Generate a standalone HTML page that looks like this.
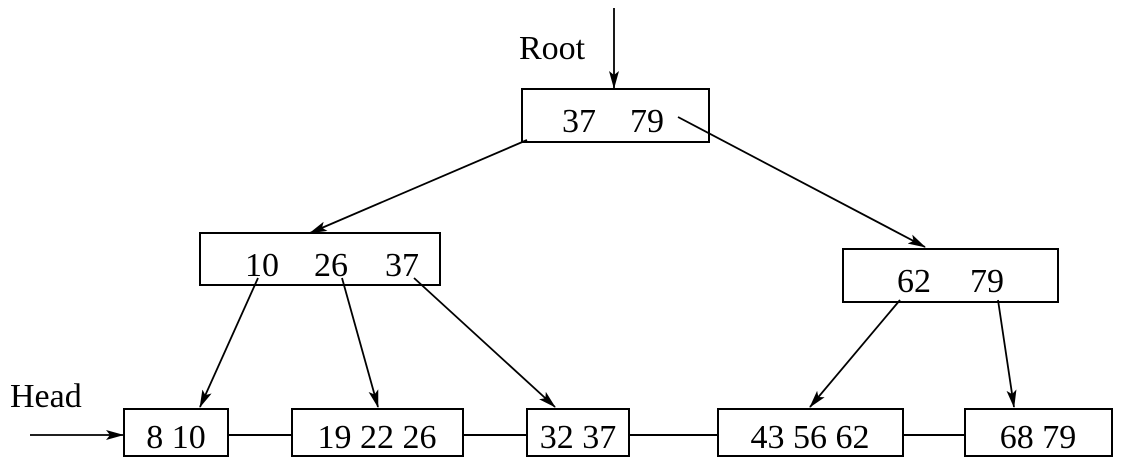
<!DOCTYPE html>
<html><head><meta charset="utf-8"><style>
html,body{margin:0;padding:0;background:#fff;}
svg{display:block;}
text{font-family:"Liberation Serif",serif;font-size:34px;fill:#000;}
</style></head><body>
<svg width="1122" height="474" viewBox="0 0 1122 474" xmlns="http://www.w3.org/2000/svg">
<defs><marker id="a" markerWidth="18" markerHeight="10" refX="17" refY="5" orient="auto" markerUnits="userSpaceOnUse"><path d="M0,0 L18,5 L0,10 L4,5 z" fill="#000"/></marker></defs>
<g fill="none" stroke="#000" stroke-width="2">
<rect x="522" y="89" width="187" height="53"/>
<rect x="200" y="233" width="240" height="52"/>
<rect x="843" y="249" width="215" height="53"/>
<rect x="124" y="409" width="104" height="47"/>
<rect x="292" y="409" width="171" height="47"/>
<rect x="527" y="409" width="102" height="47"/>
<rect x="718" y="409" width="185" height="47"/>
<rect x="965" y="409" width="147" height="47"/>
<line x1="228" y1="435" x2="292" y2="435"/>
<line x1="463" y1="435" x2="527" y2="435"/>
<line x1="629" y1="435" x2="718" y2="435"/>
<line x1="903" y1="435" x2="965" y2="435"/>
</g>
<g stroke="#000" stroke-width="1.8" marker-end="url(#a)">
<line x1="614" y1="8" x2="614" y2="88"/>
<line x1="30" y1="435" x2="123" y2="435"/>
<line x1="527" y1="140" x2="310" y2="233"/>
<line x1="678" y1="117" x2="925" y2="247"/>
<line x1="258" y1="278" x2="200" y2="407"/>
<line x1="342" y1="278" x2="378" y2="407"/>
<line x1="414" y1="278" x2="555" y2="407"/>
<line x1="900" y1="300" x2="810" y2="407"/>
<line x1="998" y1="300" x2="1014" y2="407"/>
</g>
<text x="519" y="59">Root</text>
<text x="10" y="407">Head</text>
<text x="562" y="132">37</text><text x="630" y="132">79</text>
<text x="245" y="276">10</text><text x="314" y="276">26</text><text x="385" y="276">37</text>
<text x="897" y="292">62</text><text x="970" y="292">79</text>
<text x="176" y="448" text-anchor="middle">8 10</text>
<text x="377" y="448" text-anchor="middle">19 22 26</text>
<text x="578" y="448" text-anchor="middle">32 37</text>
<text x="810" y="448" text-anchor="middle">43 56 62</text>
<text x="1038" y="448" text-anchor="middle">68 79</text>
</svg>
</body></html>
